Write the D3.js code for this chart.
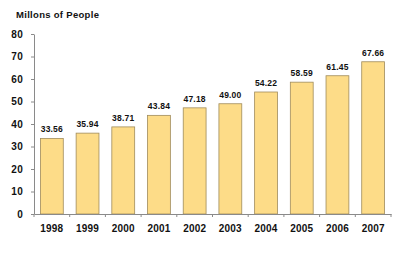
<!DOCTYPE html>
<html>
<head>
<meta charset="utf-8">
<script src="https://cdn.jsdelivr.net/npm/d3@7"></script>
<style>
  body { margin: 0; background: #fff; }
  text { font-family: "Liberation Sans", Arial, sans-serif; font-weight: bold; fill: #111; }
</style>
</head>
<body>
<svg id="chart" width="400" height="263"></svg>
<script>
const years = ["1998", "1999", "2000", "2001", "2002", "2003", "2004", "2005", "2006", "2007"];
const people = [33.56, 35.94, 38.71, 43.84, 47.18, 49.00, 54.22, 58.59, 61.45, 67.66];
const yTicks = [0, 10, 20, 30, 40, 50, 60, 70, 80];

const svg = d3.select("#chart");
const mLeft = 34, mRight = 391, mTop = 34, mBottom = 214;

const x = d3.scaleBand().domain(years).range([mLeft, mRight]).paddingInner(0.36).paddingOuter(0.18);
const y = d3.scaleLinear().domain([0, 80]).range([mBottom, mTop]);

// title
svg.append("text")
  .attr("x", 16).attr("y", 17.5)
  .style("font-size", "9.5px")
  .style("letter-spacing", "0.3px")
  .text("Millons of People");

// bars
svg.selectAll(".bar")
  .data(people)
  .enter().append("rect")
  .attr("class", "bar")
  .attr("x", (d, i) => x(years[i]))
  .attr("y", d => y(d))
  .attr("width", x.bandwidth())
  .attr("height", d => y(0) - y(d))
  .style("fill", "#fddc88")
  .style("stroke", "#a08c5c")
  .style("stroke-width", 0.8);

// value labels
svg.selectAll(".val")
  .data(people)
  .enter().append("text")
  .attr("class", "val")
  .attr("x", (d, i) => x(years[i]) + x.bandwidth() / 2)
  .attr("y", d => y(d) - 6)
  .attr("text-anchor", "middle")
  .style("font-size", "8.5px")
  .style("letter-spacing", "0.2px")
  .text(d => d.toFixed(2));

// y axis
const yAxis = svg.append("g")
  .attr("transform", `translate(${mLeft},0)`)
  .call(d3.axisLeft(y).tickValues(yTicks).tickSize(3).tickSizeOuter(0).tickPadding(8));
yAxis.selectAll("text").style("font-size", "10px").style("letter-spacing", "0.3px");

// x axis
const xAxis = svg.append("g")
  .attr("transform", `translate(0,${mBottom})`)
  .call(d3.axisBottom(x).tickSize(0).tickPadding(11));
xAxis.selectAll("text").style("font-size", "10px").style("letter-spacing", "0.2px");

// ticks between categories
const bounds = d3.range(years.length + 1).map(i => mLeft + i * (mRight - mLeft) / years.length);
xAxis.selectAll(".btick")
  .data(bounds)
  .enter().append("line")
  .attr("class", "btick")
  .attr("x1", d => d).attr("x2", d => d)
  .attr("y1", 0).attr("y2", 3);

svg.selectAll(".domain, .tick line, .btick")
  .style("stroke", "#8a8a8a")
  .style("stroke-width", 1);
</script>
</body>
</html>
